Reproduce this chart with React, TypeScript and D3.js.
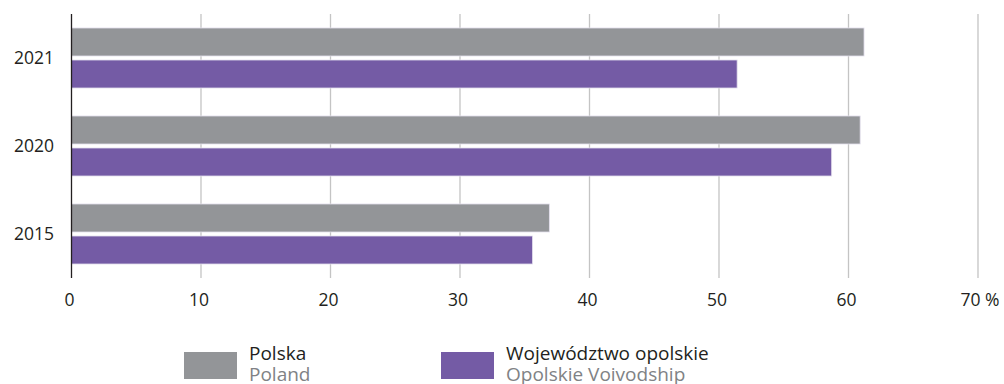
import * as d3 from 'd3';
import * as React from 'react';

const width = 1004;
const height = 384;

const years = ['2021', '2020', '2015'];
const seriesNames = ['Polska', 'Województwo opolskie'];
const seriesNamesEn = ['Poland', 'Opolskie Voivodship'];
const polska = [61.2, 60.9, 36.9];
const opolskie = [51.4, 58.7, 35.6];
const xTicks = [0, 10, 20, 30, 40, 50, 60, 70];
const colors = ['#939598', '#745ba5'];

const font = '"Open Sans", "DejaVu Sans", sans-serif';

export default () => {
  const x = d3.scaleLinear().domain([0, 70]).range([71.5, 978]);

  const y = d3
    .scaleBand<string>()
    .domain(years)
    .range([14, 278])
    .paddingInner(0.318)
    .paddingOuter(0.159);

  const ySub = d3
    .scaleBand<string>()
    .domain(seriesNames)
    .range([0, y.bandwidth()])
    .paddingInner(0.125);

  const values = [polska, opolskie];

  return (
    <svg
      width={width}
      height={height}
      style={{ position: 'absolute', left: 0, top: 0, fontFamily: font }}
    >
      {/* grid */}
      <g stroke="#c4c4c4" strokeWidth={1.3}>
        {xTicks.slice(1).map(t => (
          <line key={t} x1={x(t)} x2={x(t)} y1={14} y2={278} />
        ))}
      </g>

      {/* bars */}
      {years.map((yr, i) => (
        <g key={yr} transform={`translate(0,${y(yr)})`}>
          {seriesNames.map((s, j) => (
            <rect
              key={s}
              x={x(0)}
              y={ySub(s)}
              width={x(values[j][i]) - x(0)}
              height={ySub.bandwidth()}
              fill={colors[j]}
              stroke="#e4e0ee"
              strokeWidth={0.8}
            />
          ))}
        </g>
      ))}

      {/* y axis line */}
      <line x1={x(0)} x2={x(0)} y1={14} y2={278} stroke="#231f20" strokeWidth={1.3} />

      {/* y labels */}
      {years.map(yr => (
        <text
          key={yr}
          x={54}
          y={(y(yr) as number) + y.bandwidth() / 2}
          dy="0.36em"
          textAnchor="end"
          fontSize={17.5}
          fill="#231f20"
        >
          {yr}
        </text>
      ))}

      {/* x labels */}
      {xTicks.map((t, i) => (
        <text
          key={t}
          x={x(t) + (i === xTicks.length - 1 ? 2 : -2)}
          y={306}
          textAnchor="middle"
          fontSize={17.5}
          fill="#231f20"
        >
          {i === xTicks.length - 1 ? `${t} %` : t}
        </text>
      ))}

      {/* legend */}
      {seriesNames.map((s, j) => {
        const lx = [184, 441][j];
        return (
          <g key={s}>
            <rect x={lx} y={352} width={53} height={27} fill={colors[j]} />
            <text x={lx + 65} y={360} fontSize={19} fill="#231f20">
              {s}
            </text>
            <text x={lx + 65} y={381} fontSize={19} fill="#808285">
              {seriesNamesEn[j]}
            </text>
          </g>
        );
      })}
    </svg>
  );
};
